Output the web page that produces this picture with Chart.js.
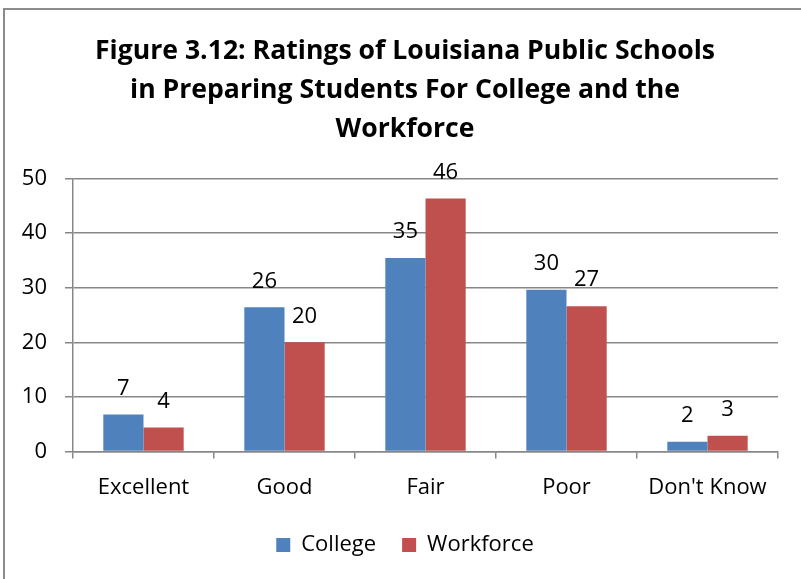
<!DOCTYPE html>
<html>
<head>
<meta charset="utf-8">
<script src="https://cdn.jsdelivr.net/npm/chart.js@4.4.0/dist/chart.umd.min.js"></script>
<style>
  html, body { margin: 0; padding: 0; background: #fff; overflow: hidden; }
  #wrap { position: relative; width: 801px; height: 579px; }
  #frame { position: absolute; left: 3px; top: 8px; width: 900px; height: 700px;
           border-left: 2px solid #8c8c8c; border-top: 2px solid #8c8c8c; }
  canvas { position: absolute; left: 0; top: 0; }
</style>
</head>
<body>
<div id="wrap">
  <div id="frame"></div>
  <canvas id="mycanvas" width="801" height="579"></canvas>
</div>
<script>
// chart data
var categories = ["Excellent", "Good", "Fair", "Poor", "Don't Know"];
var college = [6.8, 26.4, 35.4, 29.6, 1.8];
var workforce = [4.4, 20.0, 46.3, 26.6, 2.9];
var yTicks = [0, 10, 20, 30, 40, 50];
var titleLines = ["Figure 3.12: Ratings of Louisiana Public Schools",
                  "in Preparing Students For College and the",
                  "Workforce"];

var FONT = "'Open Sans', 'Liberation Sans', sans-serif";

// draws the rounded value above each bar
var barLabels = {
    id: "barLabels",
    afterDatasetsDraw: function(chart) {
        var ctx = chart.ctx;
        ctx.save();
        ctx.font = "22px " + FONT;
        ctx.fillStyle = "#000";
        ctx.textAlign = "center";
        ctx.textBaseline = "middle";
        chart.data.datasets.forEach(function(ds, i) {
            chart.getDatasetMeta(i).data.forEach(function(bar, j) {
                ctx.fillText(Math.round(ds.data[j]), bar.x, bar.y - 26);
            });
        });
        ctx.restore();
    }
};

// let the y tick labels spill into the left padding instead of being clipped
var widenY = {
    id: "widenY",
    afterLayout: function(chart) {
        chart.scales.y.left = 0;
    }
};

var chartdata = {
    labels: categories,
    datasets: [
        {
            label: "College",
            backgroundColor: "#4F81BD",
            data: college
        },
        {
            label: "Workforce",
            backgroundColor: "#C0504D",
            data: workforce
        }
    ]
};

var ctx = document.getElementById("mycanvas");

var BarGraph = new Chart(ctx, {
    type: "bar",
    data: chartdata,
    plugins: [barLabels, widenY],
    options: {
        responsive: false,
        animation: false,
        layout: { padding: { left: 32, right: 23, top: 0, bottom: 13 } },
        datasets: { bar: { categoryPercentage: 0.57, barPercentage: 1.0 } },
        scales: {
            x: {
                afterFit: function(scale) { scale.height = scale.height - 9; },
                grid: {
                    offset: true,
                    drawOnChartArea: false,
                    drawTicks: true,
                    tickLength: 7,
                    color: "#878787",
                    lineWidth: 1.5
                },
                border: { color: "#878787", width: 1.5 },
                ticks: {
                    color: "#000",
                    font: { family: FONT, size: 22 },
                    padding: 16
                }
            },
            y: {
                min: 0,
                max: 50,
                afterFit: function(scale) { scale.width = 41; },
                afterBuildTicks: function(scale) {
                    scale.ticks = yTicks.map(function(v) { return { value: v }; });
                },
                grid: {
                    color: "#878787",
                    lineWidth: 1.5,
                    tickLength: 8
                },
                border: { color: "#878787", width: 1.5 },
                ticks: {
                    color: "#000",
                    font: { family: FONT, size: 22 },
                    padding: 18
                }
            }
        },
        plugins: {
            title: {
                display: true,
                text: titleLines,
                color: "#000",
                font: { family: FONT, size: 26.6, weight: "bold", lineHeight: 1.47 },
                padding: { top: 32, bottom: 29 }
            },
            legend: {
                position: "bottom",
                labels: {
                    color: "#000",
                    font: { family: FONT, size: 22 },
                    boxWidth: 14,
                    boxHeight: 14,
                    padding: 26
                }
            },
            tooltip: { enabled: false }
        }
    }
});
</script>
</body>
</html>
